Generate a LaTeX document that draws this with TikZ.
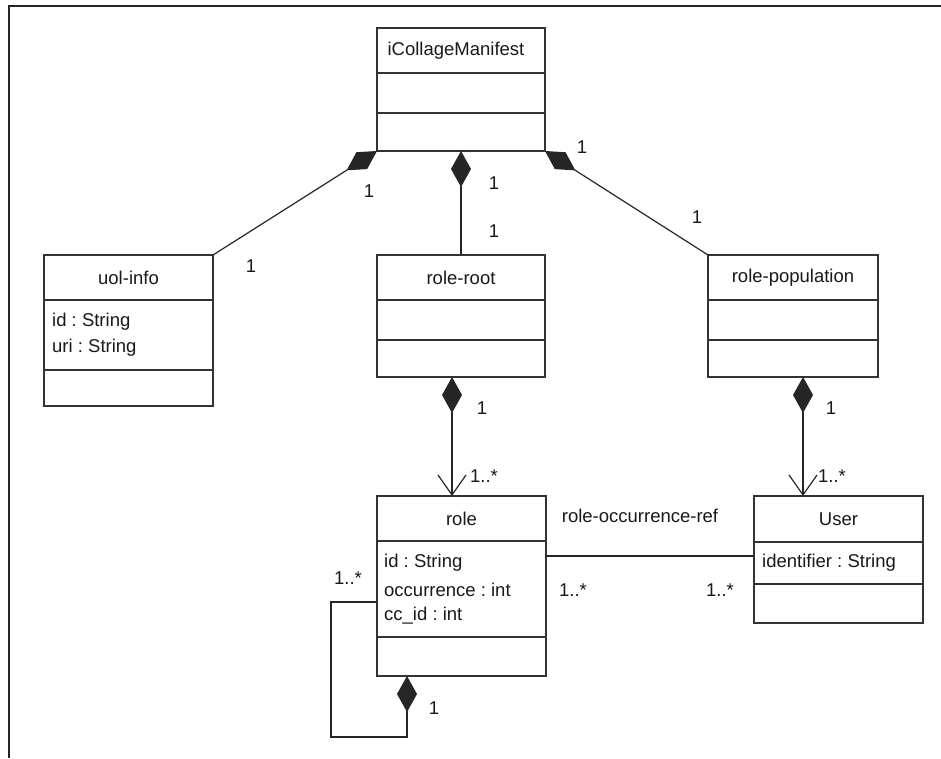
\documentclass[tikz,border=0pt]{standalone}
\usepackage{fontspec}
\setmainfont{Liberation Sans}
\usetikzlibrary{arrows.meta}
\frenchspacing
\begin{document}
\begin{tikzpicture}[x=1pt,y=-1pt,
  font=\fontsize{18.5}{22}\selectfont,
  classbox/.style={draw=black!80, line width=1.3pt, rectangle, inner sep=0pt, outer sep=0pt, anchor=north west},
  divider/.style={draw=black!80, line width=1.3pt},
  conn/.style={draw=black!85, line width=1.2pt},
  comp/.style={{Diamond[length=36pt,width=20pt]}-},
  compnav/.style={{Diamond[length=36pt,width=20pt]}-{Straight Barb[length=20pt,width=28pt]}},
  ttl/.style={inner sep=0pt, text=black!90},
  attr/.style={inner sep=0pt, anchor=west, text=black!90},
  mult/.style={inner sep=0pt, text=black!90}]
\useasboundingbox (0,0) rectangle (941,758);
\fill[white] (0,0) rectangle (941,758);
% frame
\draw[line width=1.4pt, black!85] (9,758) -- (9,6) -- (941,6);

% iCollageManifest
\node[classbox, minimum width=168pt, minimum height=123pt] (icm) at (377,28) {};
\draw[divider] (377,73) -- (545,73);
\draw[divider] (377,113) -- (545,113);
\node[ttl] (icmt) at (456,51) {iCollageManifest};

% uol-info
\node[classbox, minimum width=169pt, minimum height=151pt] (uol) at (44,255) {};
\draw[divider] (44,300) -- (213,300);
\draw[divider] (44,370) -- (213,370);
\node[ttl] (uolt) at (128.5,278) {uol-info};
\node[attr] (uola) at (52,322) {id : String};
\node[attr] (uolb) at (52,348) {uri : String};

% role-root
\node[classbox, minimum width=168pt, minimum height=122pt] (rroot) at (377,255) {};
\draw[divider] (377,300) -- (545,300);
\draw[divider] (377,340) -- (545,340);
\node[ttl] (rroott) at (461,278) {role-root};

% role-population
\node[classbox, minimum width=170pt, minimum height=122pt] (rpop) at (708,255) {};
\draw[divider] (708,300) -- (878,300);
\draw[divider] (708,340) -- (878,340);
\node[ttl] (rpopt) at (793,278) {role-population};

% role
\node[classbox, minimum width=169pt, minimum height=180pt] (role) at (377,496) {};
\draw[divider] (377,541) -- (546,541);
\draw[divider] (377,637) -- (546,637);
\node[ttl] (rolet) at (461.5,519) {role};
\node[attr] (rolea) at (384,563) {id : String};
\node[attr] (roleb) at (384,590) {occurrence : int};
\node[attr] (rolec) at (384,616) {cc\_id : int};

% User
\node[classbox, minimum width=169pt, minimum height=127pt] (user) at (754,496) {};
\draw[divider] (754,542) -- (923,542);
\draw[divider] (754,584) -- (923,584);
\node[ttl] (usert) at (838.5,519) {User};
\node[attr] (usera) at (762,563) {identifier : String};

% connectors
\draw[conn, comp] (icm.south west) -- (uol.north east);
\draw[conn, comp] (icm.south) -- (rroot.north);
\draw[conn, comp] (icm.south east) -- (rpop.north west);
\draw[conn, compnav] ([xshift=75pt]rroot.south west) -- ([xshift=75pt]role.north west);
\draw[conn, compnav] ([xshift=95pt]rpop.south west) -- ([xshift=49pt]user.north west);
\draw[conn] ([yshift=30pt]role.east) -- ([yshift=30pt]role.east -| user.west);
\draw[conn, comp] ([xshift=30pt]role.south west) -- ++(0,61) -- ++(-76,0) -- ++(0,-135) -- ([yshift=-16pt]role.west);

% multiplicities
\node[mult] (m1) at (369,191) {1};
\node[mult] (m2) at (251,266) {1};
\node[mult] (m3) at (494,183) {1};
\node[mult] (m4) at (494,231) {1};
\node[mult] (m5) at (582,147) {1};
\node[mult] (m6) at (697,217) {1};
\node[mult] (m7) at (482,408) {1};
\node[mult] (m8) at (484,476) {1..*};
\node[mult] (m9) at (831,408) {1};
\node[mult] (m10) at (832,476) {1..*};
\node[mult] (lbl) at (640,516) {role-occurrence-ref};
\node[mult] (m11) at (573,590) {1..*};
\node[mult] (m12) at (720,590) {1..*};
\node[mult] (m13) at (348,578) {1..*};
\node[mult] (m14) at (434,708) {1};
\end{tikzpicture}
\end{document}
